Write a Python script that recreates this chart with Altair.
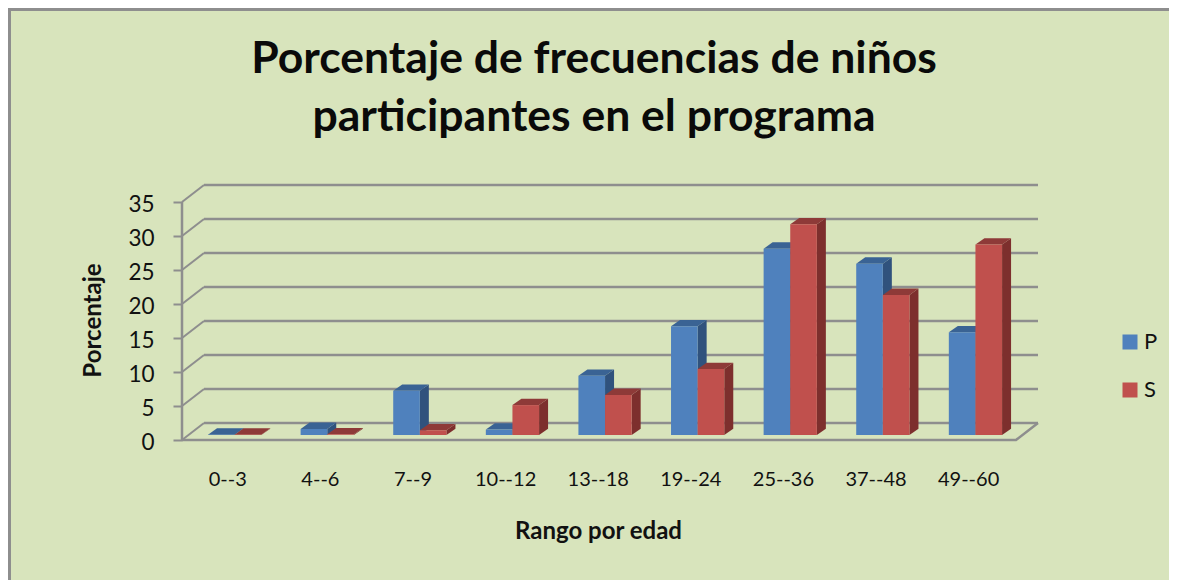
import altair as alt
import pandas as pd

categories = ["0--3", "4--6", "7--9", "10--12", "13--18", "19--24", "25--36", "37--48", "49--60"]
series_p = [0.05, 0.9, 6.5, 0.8, 8.7, 16.0, 27.4, 25.2, 15.1]
series_s = [0.05, 0.1, 0.7, 4.4, 5.9, 9.7, 31.0, 20.6, 28.0]
y_ticks = [0, 5, 10, 15, 20, 25, 30, 35]
title_lines = ["Porcentaje de frecuencias de niños", "participantes en el programa"]

# drawing geometry, in axis units
X_MAX, Y_MAX = 856 / 92.6, 256 / 6.8
WALL_DX, WALL_DY = 22 / 92.6, 2.5      # depth of the chart box
BAR_DX, BAR_DY = 9 / 92.6, 0.93        # depth of each bar
BASE = 0.735                           # bars stand this far inside the floor
LEFT, BAR_W = 0.281, 0.2875
GRID = "#8E8E8E"
FONT = "Lato"

x_scale = alt.Scale(domain=[0, X_MAX], nice=False, zero=False, padding=0)
y_scale = alt.Scale(domain=[0, Y_MAX], nice=False, zero=False, padding=0)

label_expr = "[" + ",".join(f"'{c}'" for c in categories) + "][floor(datum.value)]"
X = alt.X(
    "x:Q",
    scale=x_scale,
    axis=alt.Axis(
        values=[i + 0.5 for i in range(9)],
        labelExpr=label_expr,
        title="Rango por edad",
        titleFont=FONT,
        titleFontSize=24,
        titleFontWeight="bold",
        titleColor="#111111",
        titleX=416,
        titleY=91,
        titleBaseline="middle",
        labelFont=FONT,
        labelFontSize=20,
        labelColor="#111111",
        labelPadding=29,
        labelOffset=-1,
        labelFlush=False,
        domain=False,
        ticks=False,
        grid=False,
    ),
)
Y = alt.Y(
    "y:Q",
    scale=y_scale,
    axis=alt.Axis(
        values=y_ticks,
        title="Porcentaje",
        titleFont=FONT,
        titleFontSize=24,
        titleFontWeight="bold",
        titleColor="#111111",
        titleX=-89,
        titleY=136,
        titleAngle=270,
        titleBaseline="middle",
        labelFont=FONT,
        labelFontSize=22.5,
        labelColor="#111111",
        labelPadding=19,
        labelOffset=2,
        domain=False,
        ticks=True,
        tickSize=9,
        tickWidth=2,
        tickColor=GRID,
        grid=False,
    ),
)

fronts, sides, tops = [], [], []
for name, values, pos in (("P", series_p, 0), ("S", series_s, 1)):
    for i, v in enumerate(values):
        l = i + LEFT + pos * BAR_W
        r = l + BAR_W
        t = v + BASE
        fronts.append(dict(serie=name, categoria=categories[i], x=l, x2=r, y=t, y2=BASE))
        sides += [
            dict(serie=name, k=i, x=r, y=t, y2=BASE),
            dict(serie=name, k=i, x=r + BAR_DX, y=t + BAR_DY, y2=BASE + BAR_DY),
        ]
        tops += [
            dict(serie=name, k=i, x=l, y=t, y2=t),
            dict(serie=name, k=i, x=l + BAR_DX, y=t + BAR_DY, y2=t),
            dict(serie=name, k=i, x=r, y=t + BAR_DY, y2=t),
            dict(serie=name, k=i, x=r + BAR_DX, y=t + BAR_DY, y2=t + BAR_DY),
        ]
fronts, sides, tops = pd.DataFrame(fronts), pd.DataFrame(sides), pd.DataFrame(tops)

grid_df = pd.DataFrame({"y": [t + WALL_DY for t in y_ticks], "x": WALL_DX, "x2": X_MAX})
back_grid = alt.Chart(grid_df).mark_rule(color=GRID, strokeWidth=2.5).encode(x=X, x2="x2:Q", y=Y)

slant_df = pd.DataFrame(
    [dict(k=t, x=0, y=t) for t in y_ticks] + [dict(k=t, x=WALL_DX, y=t + WALL_DY) for t in y_ticks]
)
slants = alt.Chart(slant_df).mark_line(color=GRID, strokeWidth=2).encode(x=X, y=Y, detail="k:N")

y_line = (
    alt.Chart(pd.DataFrame({"x": [0], "y": [0], "y2": [35]}))
    .mark_rule(color=GRID, strokeWidth=2.5)
    .encode(x=X, y=Y, y2="y2:Q")
)
floor_df = pd.DataFrame({"x": [0, X_MAX - WALL_DX, X_MAX], "y": [0, 0, WALL_DY]})
floor = alt.Chart(floor_df).mark_line(color=GRID, strokeWidth=2.5, clip=False).encode(x=X, y=Y)


def faces(name, side_color, top_color):
    side = (
        alt.Chart(sides[sides.serie == name])
        .mark_area(color=side_color)
        .encode(x=X, y=Y, y2="y2:Q", detail="k:N")
    )
    top = (
        alt.Chart(tops[tops.serie == name])
        .mark_area(color=top_color)
        .encode(x=X, y=Y, y2="y2:Q", detail="k:N")
    )
    return side + top


color = alt.Color(
    "serie:N",
    scale=alt.Scale(domain=["P", "S"], range=["#4F81BD", "#C0504D"]),
    legend=alt.Legend(
        title=None,
        orient="none",
        legendX=937,
        legendY=147,
        symbolType="square",
        symbolSize=225,
        symbolStrokeWidth=0,
        symbolOpacity=1,
        labelFont=FONT,
        labelFontSize=22,
        labelColor="#111111",
        labelOffset=3,
        rowPadding=26,
        padding=0,
    ),
)


def front(name):
    return (
        alt.Chart(fronts[fronts.serie == name])
        .mark_bar(opacity=1)
        .encode(x=X, x2="x2:Q", y=Y, y2="y2:Q", color=color)
    )


def title_text(line, page_y):
    return (
        alt.Chart(pd.DataFrame({"t": [line]}))
        .mark_text(font=FONT, fontSize=44.5, fontWeight="bold", color="#0A0A0A", align="center", baseline="middle", clip=False)
        .encode(text="t:N", x=alt.value(594 - 182), y=alt.value(page_y - 184))
    )


border_v = alt.Chart(pd.DataFrame({"a": [0]})).mark_rule(color=GRID, strokeWidth=3, clip=False).encode(
    x=alt.value(-172.5), y=alt.value(-176), y2=alt.value(396)
)
border_h = alt.Chart(pd.DataFrame({"a": [0]})).mark_rule(color=GRID, strokeWidth=3, clip=False).encode(
    x=alt.value(-174), x2=alt.value(995), y=alt.value(-174.5)
)

chart = (
    alt.layer(
        border_v,
        border_h,
        back_grid,
        slants,
        y_line,
        floor,
        faces("P", "#30527D", "#3A6394"),
        front("P"),
        faces("S", "#7D2F2D", "#8E3A38"),
        front("S"),
        title_text(title_lines[0], 60),
        title_text(title_lines[1], 118),
    )
    .properties(
        width=856,
        height=256,
        padding={"left": 174, "top": 176, "right": 131, "bottom": 140},
        autosize=alt.AutoSizeParams(type="none"),
        background="#D8E4BC",
    )
    .configure_view(stroke=None)
)

chart.save("out.html", embed_options={"renderer": "svg", "actions": False})
